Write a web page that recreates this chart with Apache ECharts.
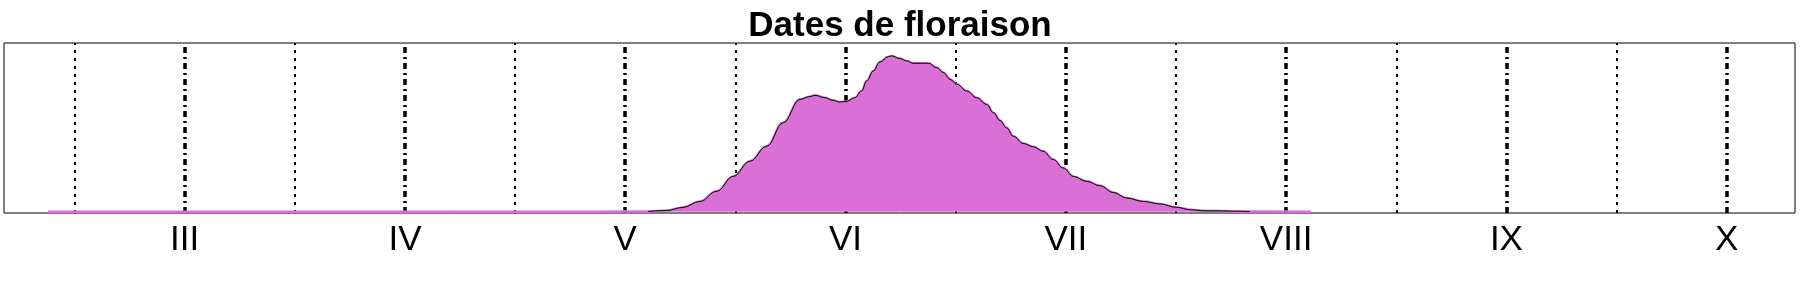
<!DOCTYPE html>
<html>
<head>
<meta charset="utf-8">
<script src="https://cdn.jsdelivr.net/npm/echarts@6/dist/echarts.min.js"></script>
<style>html,body{margin:0;padding:0;background:#fff}#c{width:1800px;height:300px}</style>
</head>
<body>
<div id="c"></div>
<script>
// x positions in months (3 = March ... 10 = October)
var months = [2.379, 4.885, 5.103, 5.188, 5.263, 5.339, 5.415, 5.490, 5.566, 5.642, 5.717, 5.793, 5.838, 5.861, 5.906, 5.943, 5.974, 6.005, 6.043, 6.073, 6.096, 6.126, 6.156, 6.194, 6.209, 6.247, 6.277, 6.307, 6.376, 6.414, 6.444, 6.474, 6.505, 6.550, 6.595, 6.641, 6.671, 6.701, 6.731, 6.761, 6.807, 6.852, 6.897, 6.943, 6.988, 7.034, 7.095, 7.155, 7.215, 7.276, 7.352, 7.428, 7.503, 7.564, 7.632, 7.836, 8.113];
// relative density
var density = [0, 0, 0.002, 0.008, 0.028, 0.066, 0.131, 0.227, 0.324, 0.42, 0.571, 0.721, 0.739, 0.747, 0.732, 0.715, 0.704, 0.708, 0.732, 0.775, 0.839, 0.903, 0.961, 0.995, 1.0, 0.983, 0.968, 0.953, 0.953, 0.925, 0.893, 0.85, 0.818, 0.775, 0.732, 0.689, 0.636, 0.586, 0.539, 0.485, 0.438, 0.417, 0.388, 0.335, 0.281, 0.227, 0.195, 0.167, 0.124, 0.088, 0.066, 0.05, 0.028, 0.013, 0.006, 0.002, 0];
var lineStart = 5.10, lineEnd = 7.84;
var tickValues = [3, 4, 5, 6, 7, 8, 9, 10];
var tickLabels = ["III", "IV", "V", "VI", "VII", "VIII", "IX", "X"];
var minorValues = [2.5, 3.5, 4.5, 5.5, 6.5, 7.5, 8.5, 9.5];
var title = "Dates de floraison";

var areaData = months.map(function (m, i) { return [m, density[i]]; });
var lineData = areaData.filter(function (p) { return p[0] >= lineStart && p[0] <= lineEnd; });

var marks = [];
minorValues.forEach(function (v) {
  marks.push({ xAxis: v, lineStyle: { color: '#000', width: 2, type: [3, 5] } });
});
tickValues.forEach(function (v) {
  marks.push({ xAxis: v, lineStyle: { color: '#000', width: 3.5, type: [6, 4, 2, 4] } });
});

var chart = echarts.init(document.getElementById('c'), null, { renderer: 'canvas' });
chart.setOption({
  animation: false,
  title: {
    text: title, left: 'center', top: 4,
    textStyle: { fontFamily: 'Liberation Sans', fontWeight: 'bold', fontSize: 35, color: '#000' }
  },
  grid: { left: 4, right: 5, top: 43, bottom: 87, show: true, borderColor: '#000', borderWidth: 1, backgroundColor: 'transparent' },
  xAxis: {
    type: 'value', min: 2.18, max: 10.31,
    axisLine: { show: false }, axisTick: { show: false }, splitLine: { show: false },
    axisLabel: {
      customValues: tickValues,
      margin: 10,
      fontFamily: 'Liberation Sans', fontSize: 35, color: '#000',
      formatter: function (v) { var i = tickValues.indexOf(Math.round(v)); return i >= 0 ? tickLabels[i] : ''; }
    }
  },
  yAxis: {
    type: 'value', min: -0.008, max: 1.083,
    axisLine: { show: false }, axisTick: { show: false }, axisLabel: { show: false }, splitLine: { show: false }
  },
  series: [
    {
      type: 'line', data: areaData, z: 3, symbol: 'none', smooth: 0.4, smoothMonotone: 'x',
      lineStyle: { color: '#DA70D6', width: 2.5 },
      areaStyle: { color: '#DA70D6', opacity: 1 },
      silent: true
    },
    {
      type: 'line', data: lineData, z: 4, symbol: 'none', smooth: 0.4, smoothMonotone: 'x',
      lineStyle: { color: '#000', width: 1 },
      silent: true,
      markLine: { z: 1, silent: true, symbol: ['none', 'none'], label: { show: false }, data: marks, animation: false }
    }
  ]
});
</script>
</body>
</html>
